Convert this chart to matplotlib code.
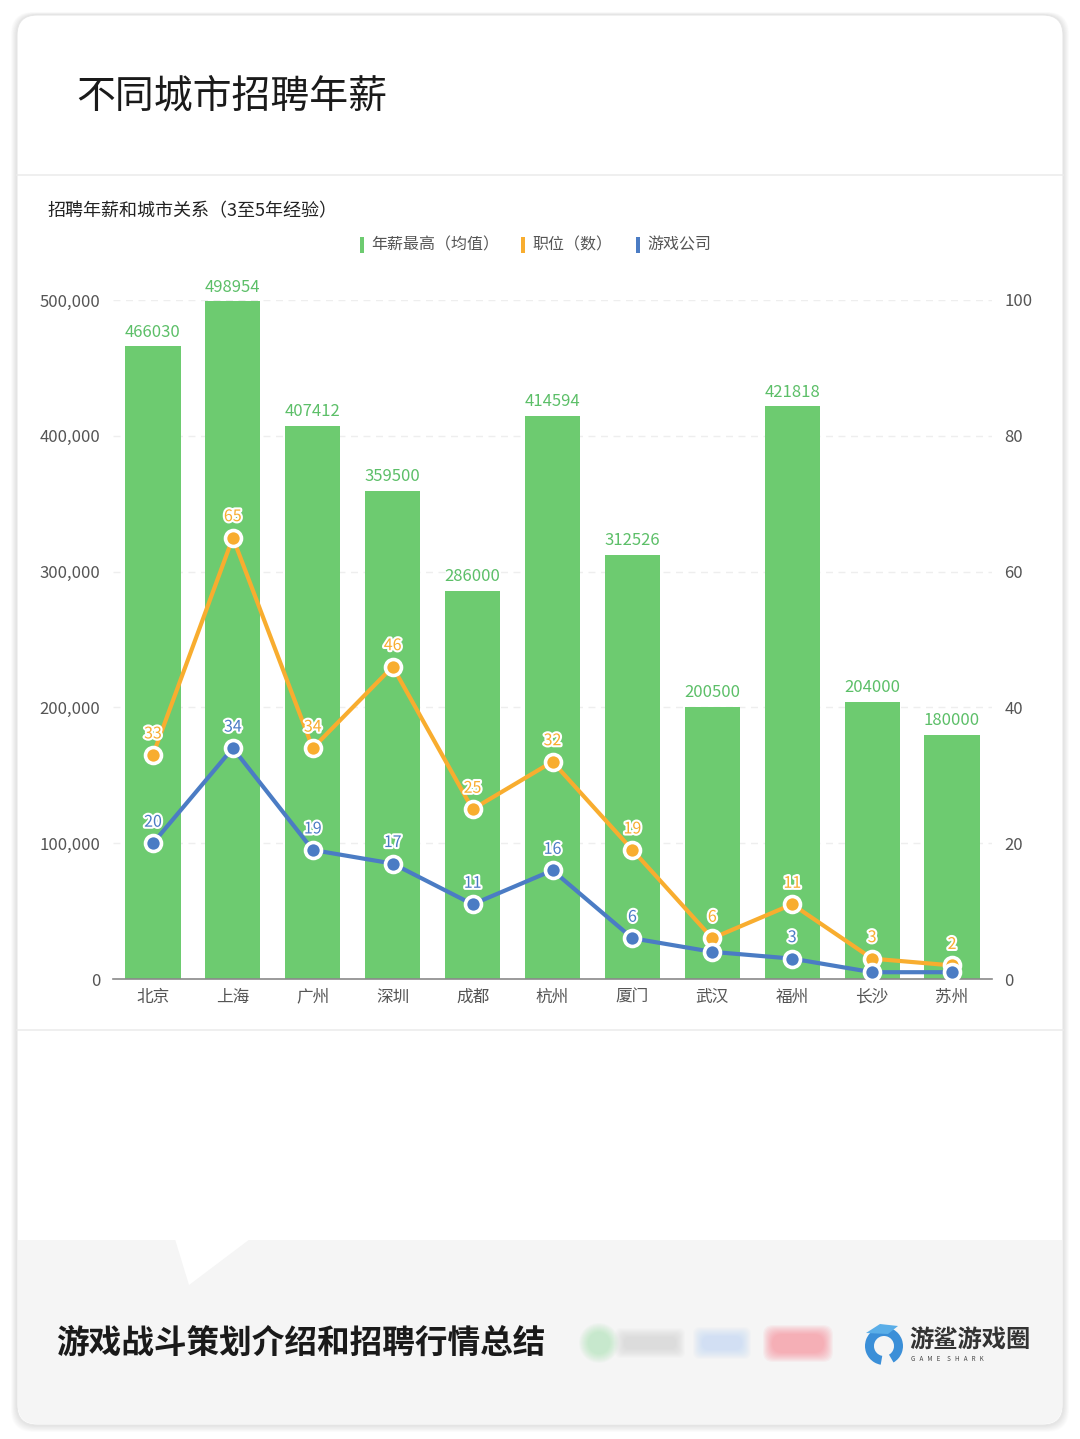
import numpy as np
import matplotlib
matplotlib.use("Agg")
import matplotlib.pyplot as plt
import matplotlib.patheffects as pe
from matplotlib.patches import FancyBboxPatch, Rectangle, Polygon, Circle, Wedge

plt.rcParams['font.family'] = ['Noto Sans CJK SC', 'DejaVu Sans']

# ---------------------------------------------------------------- data
cities = ['北京', '上海', '广州', '深圳', '成都', '杭州', '厦门', '武汉', '福州', '长沙', '苏州']
salary = [466030, 498954, 407412, 359500, 286000, 414594, 312526, 200500, 421818, 204000, 180000]
positions = [33, 65, 34, 46, 25, 32, 19, 6, 11, 3, 2]
companies = [20, 34, 19, 17, 11, 16, 6, 4, 3, 1, 1]
hide_company_labels = ['武汉', '长沙', '苏州']  # labels hidden in the original (overlap)

left_ticks = [0, 100000, 200000, 300000, 400000, 500000]
right_ticks = [0, 20, 40, 60, 80, 100]

title = '不同城市招聘年薪'
subtitle = '招聘年薪和城市关系（3至5年经验）'
legend_names = ['年薪最高（均值）', '职位（数）', '游戏公司']
footer = '游戏战斗策划介绍和招聘行情总结'

GREEN = '#6dcb70'
GREEN_TXT = '#5cbf68'
ORANGE = '#f8ad2f'
BLUE = '#4b7cc4'

W, H = 1080, 1439
fig = plt.figure(figsize=(W / 100, H / 100), dpi=100)
fig.patch.set_facecolor('white')

# ---------------------------------------------------------------- background canvas in pixel coords
bg = fig.add_axes([0, 0, 1, 1], zorder=0)
bg.set_xlim(0, W)
bg.set_ylim(H, 0)
bg.axis('off')

# soft shadow round the card
for i in range(10, 0, -1):
    bg.add_patch(FancyBboxPatch((17 - i * 0.6, 15 - i * 0.3), 1046 + i * 1.2, 1410 + i * 1.0,
                                boxstyle='round,pad=0,rounding_size=22',
                                fc='#000000', ec='none', alpha=0.012))
bg.add_patch(FancyBboxPatch((17, 15), 1046, 1410, boxstyle='round,pad=0,rounding_size=20',
                            fc='white', ec='#e6e6e6', lw=0.8))

# dividers
bg.plot([17, 1063], [175, 175], color='#ececec', lw=1.2)
bg.plot([17, 1063], [1030, 1030], color='#ececec', lw=1.2)

# grey footer with speech-bubble notch
bg.add_patch(Rectangle((18, 1240), 1044, 170, fc='#f5f5f5', ec='none'))
bg.add_patch(FancyBboxPatch((18, 1380), 1044, 44, boxstyle='round,pad=0,rounding_size=19',
                            fc='#f5f5f5', ec='none'))
bg.add_patch(Polygon([(175, 1239), (189, 1285), (250, 1239)], closed=True, fc='white', ec='none'))

bg.text(76, 96, title, fontsize=28, color='#1a1a1a', va='center', ha='left')
bg.text(48, 211, subtitle, fontsize=13, color='#222222', va='center', ha='left')

# legend
leg_x = [360, 521, 636]
for x, name, c in zip(leg_x, legend_names, [GREEN, ORANGE, BLUE]):
    bg.add_patch(Rectangle((x, 237), 4, 16, fc=c, ec='none'))
    bg.text(x + 11, 245, name, fontsize=11.5, color='#555555', va='center', ha='left')

bg.text(56, 1343, footer, fontsize=23.5, fontweight='bold', color='#1a1a1a', va='center', ha='left')

# blurred share icons (faked with layered translucent shapes)
for k in range(10):
    a = 0.045
    g = k * 1.0
    bg.add_patch(Circle((599, 1343), 11 + g, fc='#7fd98f', ec='none', alpha=a))
    bg.add_patch(FancyBboxPatch((624 - g, 1337 - g), 52 + 2 * g, 12 + 2 * g,
                                boxstyle='round,pad=0,rounding_size=6', fc='#b8b8b8', ec='none', alpha=a))
    bg.add_patch(FancyBboxPatch((702 - g, 1336 - g), 40 + 2 * g, 14 + 2 * g,
                                boxstyle='round,pad=0,rounding_size=7', fc='#9cc3f3', ec='none', alpha=a))
    bg.add_patch(FancyBboxPatch((772 - g, 1334 - g), 52 + 2 * g, 19 + 2 * g,
                                boxstyle='round,pad=0,rounding_size=10', fc='#ff6f7e', ec='none', alpha=a + 0.02))

# game shark logo
bg.add_patch(Wedge((884, 1346), 19, 100, 420, width=9, fc='#3b8fd8', ec='none'))
bg.add_patch(Polygon([(866, 1333), (880, 1324), (898, 1326), (888, 1334)], closed=True, fc='#5aaee8', ec='none'))
bg.text(909, 1341, '游鲨游戏圈', fontsize=17.5, fontweight='bold', color='#333333', va='center', ha='left')
bg.text(911, 1359, 'G   A   M   E     S   H   A   R   K', fontsize=4.5, color='#444444', va='center', ha='left')

# ---------------------------------------------------------------- main chart
ax_l, ax_r, ax_t, ax_b = 113, 992, 300, 979
ax = fig.add_axes([ax_l / W, 1 - ax_b / H, (ax_r - ax_l) / W, (ax_b - ax_t) / H], zorder=2)
ax.patch.set_alpha(0)
x = np.arange(len(cities))

ax.bar(x, salary, width=0.69, color=GREEN, zorder=2)
for xi, v in zip(x, salary):
    ax.annotate(str(v), (xi, v), xytext=(0, 4), textcoords='offset points',
                ha='center', va='bottom', fontsize=12, color=GREEN_TXT)

ax.set_xlim(-0.5, len(cities) - 0.5)
ax.set_ylim(0, 500000)
ax.set_yticks(left_ticks)
ax.set_yticklabels([f'{t:,}' for t in left_ticks])
ax.set_xticks(x)
ax.set_xticklabels(cities)
ax.tick_params(axis='both', length=0, labelsize=12, colors='#555555')
ax.tick_params(axis='x', pad=7)
ax.tick_params(axis='y', pad=9)
ax.grid(axis='y', color='#eeeeee', linestyle=(0, (5, 4)), lw=1, zorder=0)
ax.set_axisbelow(True)
for s in ['top', 'right', 'left']:
    ax.spines[s].set_visible(False)
ax.spines['bottom'].set_color('#8a8a8a')
ax.spines['bottom'].set_linewidth(1.2)

ax2 = ax.twinx()
ax2.set_zorder(3)
ax2.patch.set_alpha(0)
ax2.set_ylim(0, 100)
ax2.set_yticks(right_ticks)
ax2.tick_params(axis='y', length=0, labelsize=12, colors='#555555', pad=9)
for s in ax2.spines.values():
    s.set_visible(False)

stroke = [pe.withStroke(linewidth=3, foreground='white')]
for vals, c, hide in [(positions, ORANGE, []), (companies, BLUE, hide_company_labels)]:
    ax2.plot(x, vals, color=c, lw=3, marker='o', markersize=11.5, markerfacecolor=c,
             markeredgecolor='white', markeredgewidth=2.6, zorder=4, solid_joinstyle='round')
    for xi, v, city in zip(x, vals, cities):
        if city in hide:
            continue
        ax2.annotate(str(v), (xi, v), xytext=(0, 9), textcoords='offset points',
                     ha='center', va='bottom', fontsize=11.5, color=c, path_effects=stroke, zorder=5)

fig.savefig('out.png', dpi=100)
